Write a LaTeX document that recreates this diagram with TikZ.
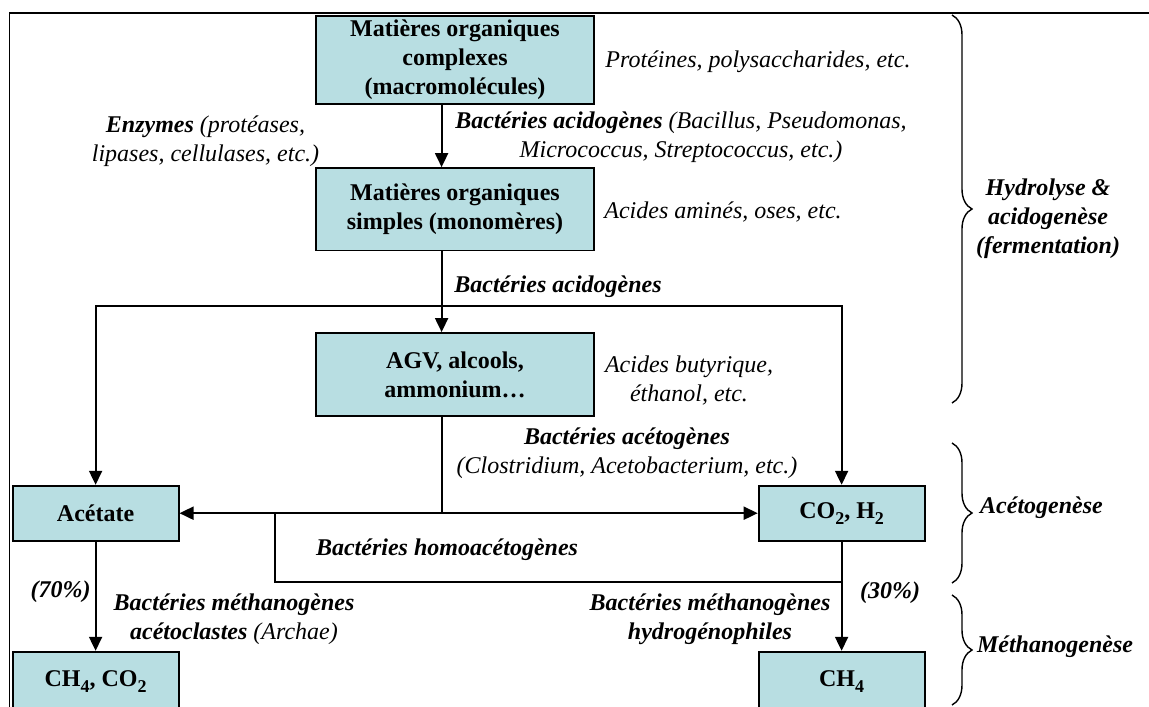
\documentclass[tikz,border=0pt]{standalone}
\usepackage{fontspec}
\setmainfont{Liberation Serif}
\usetikzlibrary{arrows.meta,decorations.pathreplacing}
\definecolor{boxfill}{RGB}{184,222,226}
\newcommand{\chemsub}[1]{\raisebox{-6pt}{\fontsize{18}{18}\selectfont #1}}
\begin{document}
\begin{tikzpicture}[x=1pt,y=-1pt,
  box/.style={draw, line width=1.8pt, fill=boxfill, inner sep=0pt, align=center,
              font=\fontsize{24}{29}\selectfont\bfseries},
  bigbox/.style={box, minimum width=278pt},
  smallbox/.style={box, minimum width=166pt},
  lbl/.style={inner sep=0pt, align=center, font=\fontsize{24}{29}\selectfont\itshape},
  phase/.style={lbl, font=\fontsize{24}{29}\selectfont\itshape\bfseries},
  conn/.style={line width=1.9pt, line join=miter},
  arr/.style={conn, -{Triangle[length=14pt,width=13pt]}},
  arrb/.style={conn, {Triangle[length=14pt,width=13pt]}-{Triangle[length=14pt,width=13pt]}},
  brc/.style={decorate, decoration={brace, amplitude=20pt}, line width=1.4pt},
  frame/.style={line width=1.6pt}]
\useasboundingbox (0,0) rectangle (1149,707);
% outer frame
\draw[frame] (9.5,707) -- (9.5,12.7) -- (1149,12.7);
% helper coordinates
\coordinate (ax) at (441.6,0);
\coordinate (hl) at (0,305.7);
\coordinate (hx) at (275,0);
\coordinate (hy) at (0,582);
% boxes
\node[bigbox, minimum height=88pt] (b1) at (455,59.6) {Matières organiques\\complexes\\(macromolécules)};
\node[bigbox, minimum height=82.5pt] (b2) at (455,209.3) {Matières organiques\\simples (monomères)};
\node[bigbox, minimum height=83pt] (agv) at (455,374.5) {AGV, alcools,\\ammonium…};
\node[smallbox, minimum height=55pt] (acet) at (95.6,513.2) {Acétate};
\node[smallbox, minimum height=60pt] (ch4co2) at (95.6,681.7) {CH\chemsub{4}, CO\chemsub{2}};
\node[smallbox, minimum height=55pt] (co2) at (841.6,513.2) {CO\chemsub{2}, H\chemsub{2}};
\node[smallbox, minimum height=60pt] (ch4) at (841.6,681.7) {CH\chemsub{4}};
% connectors
\draw[arr] (b1.south -| ax) -- (b2.north -| ax);
\draw[arr] (b2.south -| ax) -- (agv.north -| ax);
\draw[arrb] (acet.north) -- (acet.north |- hl) -- (co2.north |- hl) -- (co2.north);
\draw[conn] (agv.south -| ax) -- (acet.east -| ax);
\draw[arrb] (acet.east) -- (co2.west);
\draw[conn] (acet.east -| hx) -- (hx |- hy) -- (co2.south |- hy);
\draw[arr] (co2.south) -- (ch4.north);
\draw[arr] (acet.south) -- (ch4co2.north);
% labels
\node[lbl] (prot) at (758,62) {Protéines, polysaccharides, etc.};
\node[lbl] (enz) at (205.5,141) {\textbf{Enzymes} (protéases,\\lipases, cellulases, etc.)};
\node[lbl] (bacac1) at (681,137) {\textbf{Bactéries acidogènes} (Bacillus, Pseudomonas,\\Micrococcus, Streptococcus, etc.)};
\node[lbl] (amin) at (723,212) {Acides aminés, oses, etc.};
\node[lbl] (bacac2) at (558,287) {\textbf{Bactéries acidogènes}};
\node[lbl] (butyr) at (689,381) {Acides butyrique,\\éthanol, etc.};
\node[lbl] (acetog1) at (627,453) {\textbf{Bactéries acétogènes}\\(Clostridium, Acetobacterium, etc.)};
\node[lbl] (homo) at (447,550) {\textbf{Bactéries homoacétogènes}};
\node[lbl] (p70) at (60.6,592) {\textbf{(70\%)}};
\node[lbl] (metac) at (234,619) {\textbf{Bactéries méthanogènes}\\\textbf{acétoclastes} (Archae)};
\node[lbl] (p30) at (890,593) {\textbf{(30\%)}};
\node[lbl] (methyd) at (710,619) {\textbf{Bactéries méthanogènes}\\\textbf{hydrogénophiles}};
% braces and phase labels
\draw[brc] (952,15) -- (952,403);
\draw[brc] (952,443) -- (952,583);
\draw[brc] (952,595) -- (952,705);
\node[phase] (hydro) at (1048,219) {Hydrolyse \&\\acidogenèse\\(fermentation)};
\node[phase] (acetogen) at (1041.5,508) {Acétogenèse};
\node[phase] (methan) at (1055,647) {Méthanogenèse};
\end{tikzpicture}
\end{document}
